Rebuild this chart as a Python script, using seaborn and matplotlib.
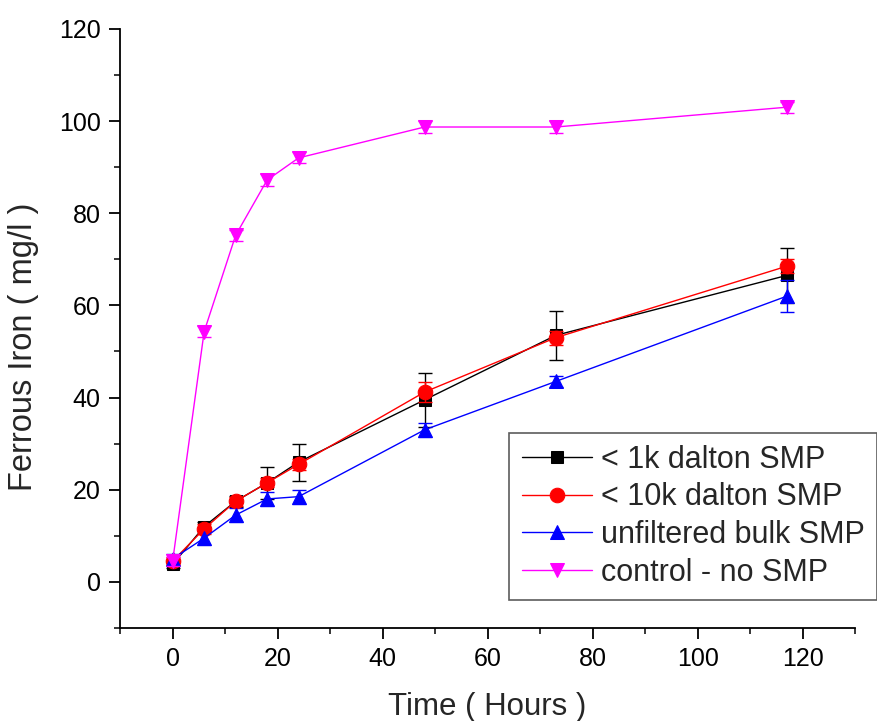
import matplotlib
matplotlib.use("Agg")
import matplotlib.pyplot as plt
import seaborn as sns
import pandas as pd
import numpy as np
from matplotlib.ticker import MultipleLocator

sns.set_style("ticks")
plt.rcParams['font.family'] = ['Liberation Sans', 'DejaVu Sans']

time_h = [0, 6, 12, 18, 24, 48, 73, 117]
labels = ["< 1k dalton SMP", "< 10k dalton SMP", "unfiltered bulk SMP", "control - no SMP"]
smp_1k = [3.8, 12.0, 17.5, 21.5, 26.0, 39.5, 53.5, 66.5]
smp_1k_err = [0.8, 1.0, 1.2, 3.5, 4.0, 5.8, 5.3, 6.0]
smp_10k = [4.5, 11.5, 17.5, 21.5, 25.5, 41.2, 53.0, 68.5]
smp_10k_err = [0.8, 1.0, 1.0, 1.0, 1.2, 2.2, 1.5, 1.5]
bulk = [5.0, 9.5, 14.5, 18.0, 18.5, 33.0, 43.5, 62.0]
bulk_err = [1.0, 1.5, 1.5, 1.5, 1.5, 1.5, 1.2, 3.5]
control = [4.5, 54.3, 75.2, 87.2, 92.0, 98.7, 98.7, 103.0]
control_err = [1.0, 1.2, 1.2, 1.2, 1.2, 1.2, 1.2, 1.2]

values = [smp_1k, smp_10k, bulk, control]
errors = [smp_1k_err, smp_10k_err, bulk_err, control_err]
colors = ["#000000", "#ff0000", "#0000ff", "#ff00ff"]
markers = ["s", "o", "^", "v"]
msizes = [9, 10.5, 10.5, 10.5]

df = pd.DataFrame({
    "Time": np.tile(time_h, 4),
    "Iron": np.concatenate(values),
    "Series": np.repeat(labels, len(time_h)),
})

fig = plt.figure(figsize=(8.77, 7.21), dpi=100)
ax = fig.add_axes([0.137, 0.129, 0.838, 0.831])

order = [0, 2, 1, 3]
for i in order:
    ax.errorbar(time_h, values[i], yerr=errors[i], fmt='none', ecolor=colors[i],
                elinewidth=1, capsize=5, capthick=1, zorder=2 + i)
    sub = df[df["Series"] == labels[i]]
    sns.lineplot(data=sub, x="Time", y="Iron", ax=ax, color=colors[i],
                 marker=markers[i], markersize=msizes[i], markeredgecolor=colors[i],
                 linewidth=1, label=labels[i], zorder=3 + i, estimator=None)

ax.set_xlim(-10, 130)
ax.set_ylim(-10, 120)
ax.xaxis.set_minor_locator(MultipleLocator(10))
ax.yaxis.set_minor_locator(MultipleLocator(10))
ax.set_xticks([0, 20, 40, 60, 80, 100, 120])
ax.set_yticks([0, 20, 40, 60, 80, 100, 120])
ax.tick_params(which='major', direction='out', length=8, width=1.3, labelsize=18,
               colors='black', pad=6)
ax.tick_params(which='minor', direction='out', length=4.5, width=1.3)
for s in ['top', 'right']:
    ax.spines[s].set_visible(False)
for s in ['left', 'bottom']:
    ax.spines[s].set_linewidth(1.3)
    ax.spines[s].set_color('black')

ax.set_xlabel("Time ( Hours )", fontsize=22.5)
ax.xaxis.label.set_va('baseline')
ax.xaxis.set_label_coords(0.5, -0.146)
ax.set_ylabel("Ferrous Iron ( mg/l )", fontsize=23.5)
ax.yaxis.label.set_va('center')
ax.yaxis.label.set_ha('center')
ax.yaxis.set_label_coords(-0.132, 0.47)

handles, lbls = ax.get_legend_handles_labels()
hmap = dict(zip(lbls, handles))
leg = ax.legend([hmap[l] for l in labels], labels, loc='lower right',
                bbox_to_anchor=(1.0, 0.168), bbox_transform=fig.transFigure,
                fontsize=22, frameon=True, fancybox=False, borderpad=0.4,
                handlelength=2.3, handletextpad=0.3, labelspacing=0.25,
                borderaxespad=0)
leg.get_frame().set_edgecolor('#333333')
leg.get_frame().set_linewidth(1.2)
leg.set_zorder(20)

fig.savefig("out.png", dpi=100)
